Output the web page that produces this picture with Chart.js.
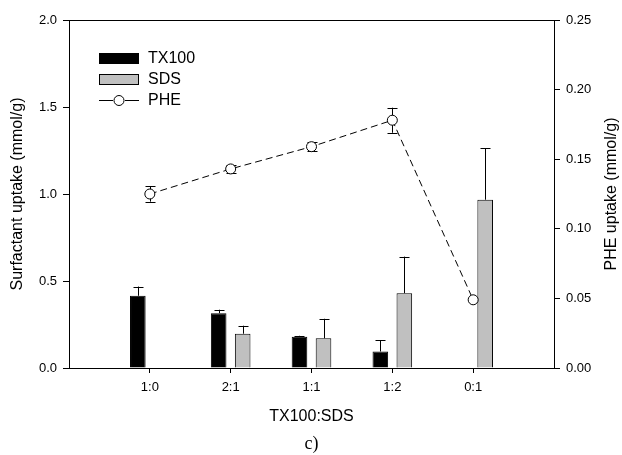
<!DOCTYPE html>
<html>
<head>
<meta charset="utf-8">
<script src="https://cdn.jsdelivr.net/npm/chart.js@4"></script>
<style>
  html, body { margin: 0; padding: 0; background: #fff; }
  #wrap { width: 622px; height: 455px; }
</style>
</head>
<body>
<div id="wrap"><canvas id="c" width="622" height="455"></canvas></div>
<script>
// ---- data ----
const categories = ['1:0', '2:1', '1:1', '1:2', '0:1'];
const tx100    = [0.415, 0.315, 0.180, 0.095, null];
const tx100Err = [0.053, 0.020, 0.005, 0.065, null];
const sds      = [null, 0.197, 0.171, 0.430, 0.967];
const sdsErr   = [null, 0.046, 0.112, 0.210, 0.297];
const phe      = [0.125, 0.143, 0.159, 0.178, 0.049];
const pheErr   = [0.0055, 0.003, 0.0032, 0.009, 0];
const leftTicks  = [0, 0.5, 1.0, 1.5, 2.0];
const rightTicks = [0, 0.05, 0.10, 0.15, 0.20, 0.25];

// padded labels so categories sit at 1..5 of a 0..6 span
const labels = [''].concat(categories, ['']);
const pad = arr => [null].concat(arr, [null]);

const FONT = "'Liberation Sans', Arial, sans-serif";

const errorBars = {
  id: 'errorBars',
  beforeDatasetsDraw(chart) {
    const ctx = chart.ctx;
    ctx.save();
    ctx.strokeStyle = '#000';
    ctx.lineWidth = 1;
    const specs = [
      { ds: 1, err: pad(tx100Err), axis: 'y', both: false, cap: 5 },
      { ds: 2, err: pad(sdsErr), axis: 'y', both: false, cap: 5 },
      { ds: 0, err: pad(pheErr), axis: 'y1', both: true, cap: 5 }
    ];
    specs.forEach(s => {
      const meta = chart.getDatasetMeta(s.ds);
      const data = chart.data.datasets[s.ds].data;
      const scale = chart.scales[s.axis];
      meta.data.forEach((el, i) => {
        const v = data[i], e = s.err[i];
        if (v == null || e == null || e === 0) return;
        const x = Math.round(el.x) + 0.5;
        const yTop = scale.getPixelForValue(v + e);
        const yBot = s.both ? scale.getPixelForValue(v - e) : scale.getPixelForValue(v);
        ctx.beginPath();
        ctx.moveTo(x, yBot);
        ctx.lineTo(x, yTop);
        ctx.moveTo(x - s.cap, Math.round(yTop) + 0.5);
        ctx.lineTo(x + s.cap, Math.round(yTop) + 0.5);
        if (s.both) {
          ctx.moveTo(x - s.cap, Math.round(yBot) + 0.5);
          ctx.lineTo(x + s.cap, Math.round(yBot) + 0.5);
        }
        ctx.stroke();
      });
    });
    ctx.restore();
  }
};

const decor = {
  id: 'decor',
  afterDraw(chart) {
    const ctx = chart.ctx;
    const a = chart.chartArea;
    ctx.save();
    // top frame line
    ctx.strokeStyle = '#000';
    ctx.lineWidth = 1;
    ctx.beginPath();
    ctx.moveTo(a.left, a.top + 0.5);
    ctx.lineTo(a.right, a.top + 0.5);
    ctx.stroke();

    ctx.fillStyle = '#000';
    ctx.textAlign = 'center';
    ctx.textBaseline = 'middle';
    ctx.font = '16px ' + FONT;
    // left title
    ctx.save();
    ctx.translate(18, (a.top + a.bottom) / 2);
    ctx.rotate(-Math.PI / 2);
    ctx.fillText('Surfactant uptake (mmol/g)', 0, 0);
    ctx.restore();
    // right title
    ctx.save();
    ctx.translate(612, (a.top + a.bottom) / 2);
    ctx.rotate(-Math.PI / 2);
    ctx.fillText('PHE uptake (mmol/g)', 0, 0);
    ctx.restore();
    // x title
    ctx.fillText('TX100:SDS', (a.left + a.right) / 2, 417);
    ctx.font = "18px 'Liberation Serif', 'Times New Roman', serif";
    ctx.fillText('c)', (a.left + a.right) / 2, 444);

    // legend
    ctx.font = '16px ' + FONT;
    ctx.textAlign = 'left';
    ctx.fillStyle = '#000';
    ctx.fillRect(99, 53, 40, 11);
    ctx.fillText('TX100', 148, 59);
    ctx.fillStyle = '#c0c0c0';
    ctx.fillRect(99, 74, 40, 11);
    ctx.strokeRect(99.5, 74.5, 39, 10);
    ctx.fillStyle = '#000';
    ctx.fillText('SDS', 148, 80);
    ctx.beginPath();
    ctx.moveTo(99, 100.5); ctx.lineTo(113, 100.5);
    ctx.moveTo(125, 100.5); ctx.lineTo(139, 100.5);
    ctx.stroke();
    ctx.beginPath();
    ctx.arc(119, 100.5, 5, 0, Math.PI * 2);
    ctx.fillStyle = '#fff';
    ctx.fill();
    ctx.stroke();
    ctx.fillStyle = '#000';
    ctx.fillText('PHE', 148, 101);
    ctx.restore();
  }
};

const tickFont = { family: FONT, size: 13 };

new Chart(document.getElementById('c'), {
  type: 'bar',
  data: {
    labels: labels,
    datasets: [
      {
        type: 'line', label: 'PHE', data: pad(phe), yAxisID: 'y1',
        borderColor: '#000', borderWidth: 1, borderDash: [7, 4],
        pointRadius: 5, pointBackgroundColor: '#fff', pointBorderColor: '#000',
        pointBorderWidth: 1, fill: false, spanGaps: false, order: 0
      },
      {
        label: 'TX100', data: pad(tx100), yAxisID: 'y',
        backgroundColor: '#000', borderColor: '#000', borderWidth: 1,
        categoryPercentage: 0.594, barPercentage: 0.65, order: 1
      },
      {
        label: 'SDS', data: pad(sds), yAxisID: 'y',
        backgroundColor: '#c0c0c0', borderColor: '#000', borderWidth: 1,
        categoryPercentage: 0.594, barPercentage: 0.65, order: 1
      }
    ]
  },
  options: {
    responsive: false,
    animation: false,
    devicePixelRatio: 1,
    layout: { padding: { top: 20, left: 0, right: 0, bottom: 0 } },
    plugins: { legend: { display: false }, tooltip: { enabled: false } },
    scales: {
      x: {
        offset: false,
        grid: {
          display: true, offset: false, drawOnChartArea: false, tickLength: 5,
          color: ctx => (ctx.tick && ctx.tick.label === '') ? 'rgba(0,0,0,0)' : '#000'
        },
        border: { display: true, color: '#000', width: 1 },
        ticks: { color: '#000', font: tickFont, padding: 7, autoSkip: false, maxRotation: 0 },
        afterFit: s => { s.height = 87; }
      },
      y: {
        position: 'left', min: 0, max: 2,
        afterBuildTicks: s => { s.ticks = leftTicks.map(v => ({ value: v })); },
        grid: { display: true, drawOnChartArea: false, tickLength: 6, color: '#000' },
        border: { display: true, color: '#000', width: 1 },
        ticks: { color: '#000', font: tickFont, padding: 6, callback: v => Number(v).toFixed(1) },
        afterFit: s => { s.width = 69; }
      },
      y1: {
        position: 'right', min: 0, max: 0.25,
        afterBuildTicks: s => { s.ticks = rightTicks.map(v => ({ value: v })); },
        grid: { display: true, drawOnChartArea: false, tickLength: 6, color: '#000' },
        border: { display: true, color: '#000', width: 1 },
        ticks: { color: '#000', font: tickFont, padding: 6, callback: v => Number(v).toFixed(2) },
        afterFit: s => { s.width = 68; }
      }
    }
  },
  plugins: [errorBars, decor]
});
</script>
</body>
</html>
